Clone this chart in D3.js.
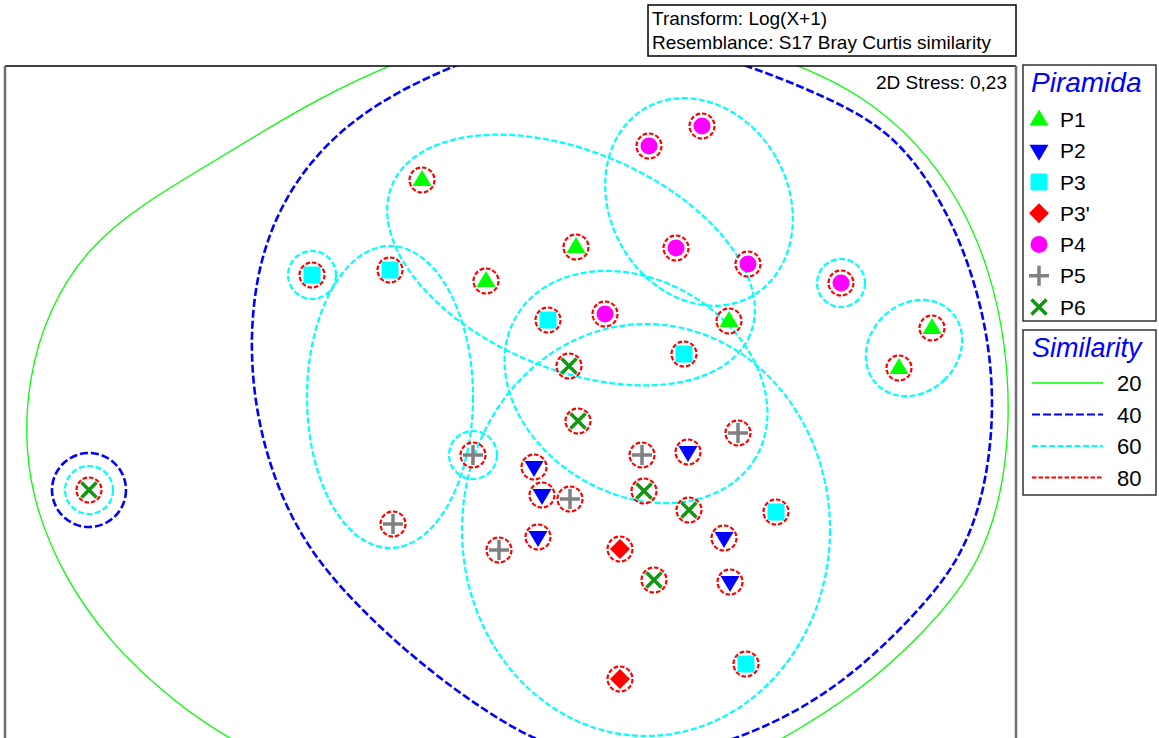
<!DOCTYPE html>
<html>
<head>
<meta charset="utf-8">
<script src="https://cdn.jsdelivr.net/npm/d3@7"></script>
<style>
  body { margin: 0; background: #fff; }
  text { font-family: Arial, "Liberation Sans", sans-serif; }
</style>
</head>
<body>
<div class="canvas"></div>
<script>
// nMDS of Piramida samples, log(x+1), Bray Curtis

const groups = ['P1', 'P2', 'P3', "P3'", 'P4', 'P5', 'P6'];

// coordinates per group (MDS1, MDS2)
const p1 = [[-1.38, 2.20], [0.16, 1.53], [-0.74, 1.19], [1.69, 0.79], [3.72, 0.72], [3.39, 0.32]];
const p2 = [[-0.26, -0.67], [-0.18, -0.95], [1.28, -0.52], [-0.22, -1.37], [1.64, -1.38], [1.70, -1.82]];
const p3 = [[-2.48, 1.25], [-1.70, 1.30], [-0.12, 0.80], [1.24, 0.46], [2.16, -1.12], [1.86, -2.64]];
const p3b = [[0.60, -1.49], [0.60, -2.79]];
const p4 = [[1.42, 2.74], [0.89, 2.54], [1.16, 1.52], [1.88, 1.36], [0.45, 0.86], [2.81, 1.17]];
const p5 = [[-0.87, -0.55], [1.78, -0.33], [0.82, -0.55], [0.10, -0.99], [-1.67, -1.24], [-0.61, -1.50]];
const p6 = [[-4.71, -0.90], [0.09, 0.34], [0.18, -0.21], [0.84, -0.91], [1.29, -1.10], [0.94, -1.80]];
const groupPoints = [p1, p2, p3, p3b, p4, p5, p6];

// similarity levels of the cluster overlay
const simLevels = [20, 40, 60, 80];

// 80% contours: one small ring round every sample
const ring80 = 0.125;
// 60% contours: [cx, cy, rx, ry, tilt in degrees]
const cont60 = [
  [0.11, 1.40, 1.94, 1.09, -22.7],
  [1.39, 1.98, 0.89, 1.08, 29],
  [-1.70, 0.03, 0.83, 1.51, 0],
  [0.76, 0.13, 1.39, 1.07, -30.6],
  [0.86, -1.30, 1.84, 2.06, 0],
  [3.54, 0.52, 0.44, 0.52, -45],
  [-2.48, 1.25, 0.24, 0.24, 0],
  [2.81, 1.17, 0.24, 0.24, 0],
  [-0.87, -0.55, 0.24, 0.24, 0],
  [-4.71, -0.90, 0.24, 0.24, 0]
];
// 40% contours (outline control points)
const cont40Ring = [[-4.71, -0.90, 0.37, 0.37, 0]];
const cont40Path = [[0.40, 3.68], [1.10, 3.58], [1.85, 3.36], [2.70, 3.02], [3.35, 2.66], [3.82, 2.00],
  [4.12, 1.30], [4.30, 0.55], [4.34, -0.20], [4.24, -0.95], [4.02, -1.55], [3.67, -2.02],
  [3.10, -2.60], [2.50, -3.05], [1.80, -3.39], [0.90, -3.64], [0.00, -3.54], [-0.72, -3.14],
  [-1.42, -2.62], [-2.02, -2.07], [-2.52, -1.50], [-2.87, -0.80], [-3.07, 0.00], [-3.10, 0.80],
  [-2.97, 1.56], [-2.62, 2.27], [-2.02, 2.87], [-1.20, 3.30], [-0.40, 3.58]];
// 20% contour
const cont20Path = [[0.40, 3.82], [1.40, 3.67], [2.40, 3.36], [3.06, 3.02], [3.57, 2.58], [4.00, 2.00],
  [4.30, 1.30], [4.46, 0.55], [4.50, -0.20], [4.42, -0.95], [4.20, -1.60], [3.89, -2.04],
  [3.49, -2.47], [3.00, -2.90], [2.40, -3.29], [1.80, -3.62], [0.90, -3.97], [-0.60, -4.12],
  [-2.10, -3.92], [-3.12, -3.52], [-3.87, -3.02], [-4.52, -2.41], [-4.97, -1.75], [-5.24, -1.10],
  [-5.35, -0.50], [-5.32, 0.20], [-5.12, 0.90], [-4.72, 1.53], [-4.16, 1.97], [-3.57, 2.32],
  [-3.00, 2.67], [-2.40, 3.02], [-1.70, 3.36], [-0.80, 3.67]];

const stressText = '2D Stress: 0,23';
const headerLines = ['Transform: Log(X+1)', 'Resemblance: S17 Bray Curtis similarity'];

// styles
const groupColors = ['#00ff00', '#0000ff', '#00ffff', '#ff0000', '#ff00ff', '#808080', '#129612'];
const groupShapes = ['up', 'down', 'square', 'diamond', 'circle', 'plus', 'cross'];
const simColors = ['#00ff00', '#0000ff', '#00ffff', '#ff0000'];
const simDash = [null, '8,3', '6,2.5', '4.5,2'];
const simWidth = [1.3, 2.6, 2.2, 2.2];

const svg = d3.select('.canvas')
  .append('svg')
  .attr('width', 1159)
  .attr('height', 738);

const plot = { left: 5, top: 66, right: 1016, bottom: 768 };

const x = d3.scaleLinear().domain([-5.55, 4.56]).range([plot.left, plot.right]);
const y = d3.scaleLinear().domain([-3.68, 3.34]).range([plot.bottom, plot.top]);

svg.append('clipPath').attr('id', 'clip')
  .append('rect')
  .attr('x', plot.left).attr('y', plot.top)
  .attr('width', plot.right - plot.left).attr('height', plot.bottom - plot.top);

const graph = svg.append('g').attr('clip-path', 'url(#clip)');

// contour helpers
const closed = d3.line()
  .x(d => x(d[0]))
  .y(d => y(d[1]))
  .curve(d3.curveBasisClosed);

const drawEllipses = (list, i) => {
  graph.selectAll(null).data(list).enter()
    .append('ellipse')
    .attr('cx', d => x(d[0]))
    .attr('cy', d => y(d[1]))
    .attr('rx', d => x(d[0] + d[2]) - x(d[0]))
    .attr('ry', d => y(d[1]) - y(d[1] + d[3]))
    .attr('transform', d => `rotate(${-d[4]},${x(d[0])},${y(d[1])})`)
    .attr('fill', 'none')
    .attr('stroke', simColors[i])
    .attr('stroke-width', simWidth[i])
    .attr('stroke-dasharray', simDash[i]);
};

const drawPath = (pts, i) => {
  graph.append('path')
    .attr('d', closed(pts))
    .attr('fill', 'none')
    .attr('stroke', simColors[i])
    .attr('stroke-width', simWidth[i])
    .attr('stroke-dasharray', simDash[i]);
};

drawPath(cont20Path, 0);
drawPath(cont40Path, 1);
drawEllipses(cont40Ring, 1);
drawEllipses(cont60, 2);

// 80% rings
const allPts = groupPoints.flatMap((pts, gi) => pts.map(p => ({ x: p[0], y: p[1], g: gi })));
drawEllipses(allPts.map(d => [d.x, d.y, ring80, ring80, 0]), 3);

// marker drawing
const marker = (sel, shape, color) => {
  if (shape === 'up') {
    sel.append('path').attr('d', 'M0,-10L9.5,6L-9.5,6Z').attr('fill', color);
  } else if (shape === 'down') {
    sel.append('path').attr('d', 'M0,10L9.5,-6L-9.5,-6Z').attr('fill', color);
  } else if (shape === 'square') {
    sel.append('rect').attr('x', -8.5).attr('y', -8.5).attr('width', 17).attr('height', 17)
      .attr('rx', 2).attr('fill', color);
  } else if (shape === 'diamond') {
    sel.append('path').attr('d', 'M0,-10L10,0L0,10L-10,0Z').attr('fill', color);
  } else if (shape === 'circle') {
    sel.append('circle').attr('r', 8.5).attr('fill', color);
  } else if (shape === 'plus') {
    sel.append('path').attr('d', 'M-10,0H10M0,-10V10').attr('stroke', color).attr('stroke-width', 3.5);
  } else if (shape === 'cross') {
    sel.append('path').attr('d', 'M-7.5,-7.5L7.5,7.5M-7.5,7.5L7.5,-7.5').attr('stroke', color).attr('stroke-width', 3.5);
  }
};

graph.selectAll('g.pt').data(allPts).enter()
  .append('g')
  .attr('class', 'pt')
  .attr('transform', d => `translate(${x(d.x)},${y(d.y)})`)
  .each(function (d) { marker(d3.select(this), groupShapes[d.g], groupColors[d.g]); });

// plot frame
svg.append('line').attr('x1', plot.left).attr('x2', plot.right).attr('y1', plot.top).attr('y2', plot.top)
  .attr('stroke', '#000').attr('stroke-width', 1.5);
svg.append('line').attr('x1', plot.left).attr('x2', plot.left).attr('y1', plot.top).attr('y2', 738)
  .attr('stroke', '#6e6e6e').attr('stroke-width', 2.5);
svg.append('line').attr('x1', plot.right).attr('x2', plot.right).attr('y1', plot.top).attr('y2', 738)
  .attr('stroke', '#6e6e6e').attr('stroke-width', 2.5);

svg.append('text')
  .attr('x', 1007).attr('y', 89)
  .attr('text-anchor', 'end')
  .attr('font-size', 19)
  .text(stressText);

// header box
svg.append('rect').attr('x', 648).attr('y', 5).attr('width', 368).attr('height', 51)
  .attr('fill', '#fff').attr('stroke', '#000').attr('stroke-width', 1.5);
svg.selectAll('text.hdr').data(headerLines).enter()
  .append('text')
  .attr('class', 'hdr')
  .attr('x', 652)
  .attr('y', (d, i) => 25 + i * 24)
  .attr('font-size', 19)
  .text(d => d);

// legend: groups
const leg = svg.append('g');
leg.append('rect').attr('x', 1023).attr('y', 65).attr('width', 133).attr('height', 256)
  .attr('fill', '#fff').attr('stroke', '#333').attr('stroke-width', 1.5);
leg.append('text').attr('x', 1031).attr('y', 92)
  .attr('font-size', 28).attr('font-style', 'italic').attr('fill', '#0000ff')
  .text('Piramida');
const items = leg.selectAll('g.item').data(groups).enter()
  .append('g')
  .attr('class', 'item')
  .attr('transform', (d, i) => `translate(1039,${119.5 + i * 31.25})`);
items.each(function (d, i) { marker(d3.select(this), groupShapes[i], groupColors[i]); });
items.append('text').attr('x', 21).attr('y', 7.5).attr('font-size', 21).text(d => d);

// legend: similarity
const leg2 = svg.append('g');
leg2.append('rect').attr('x', 1023).attr('y', 330).attr('width', 133).attr('height', 165)
  .attr('fill', '#fff').attr('stroke', '#333').attr('stroke-width', 1.5);
leg2.append('text').attr('x', 1032).attr('y', 357)
  .attr('font-size', 27).attr('font-style', 'italic').attr('fill', '#0000ff')
  .text('Similarity');
const rows = leg2.selectAll('g.row').data(simLevels).enter()
  .append('g')
  .attr('class', 'row')
  .attr('transform', (d, i) => `translate(0,${383 + i * 31.5})`);
rows.append('line')
  .attr('x1', 1032).attr('x2', 1103)
  .attr('stroke', (d, i) => simColors[i])
  .attr('stroke-width', (d, i) => Math.min(simWidth[i], 2))
  .attr('stroke-dasharray', (d, i) => simDash[i]);
rows.append('text').attr('x', 1117).attr('y', 8).attr('font-size', 22).text(d => d);
</script>
</body>
</html>
